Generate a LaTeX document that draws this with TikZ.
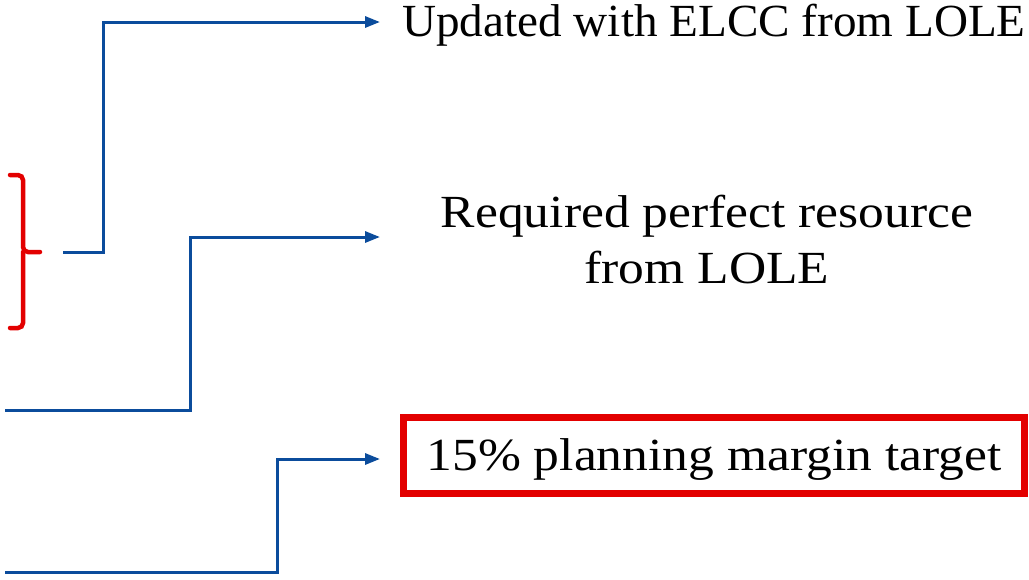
\documentclass[tikz,border=0pt]{standalone}
\usepackage{fontspec}
\setmainfont{Liberation Serif}
\newfontfamily\widefont[FakeStretch=1.12]{Liberation Serif}
\newfontfamily\slightfont[FakeStretch=1.025]{Liberation Serif}
\usetikzlibrary{arrows.meta}
\definecolor{lnblue}{HTML}{0B4C9C}
\definecolor{bred}{HTML}{E30000}
\begin{document}
\begin{tikzpicture}[x=1pt,y=-1pt,
  conn/.style={draw=lnblue,line width=3pt,-{Triangle[length=15pt,width=11pt]}},
  lbl/.style={font=\fontsize{46}{56}\widefont,inner sep=0pt,align=center},
  redbox/.style={draw=bred,line width=7pt,minimum width=621pt,minimum height=76pt,inner sep=0pt,text height=40pt,text depth=10pt}]
\useasboundingbox (0,0) rectangle (1029,579);
% brace
\draw[bred,line width=4.5pt,line cap=round,rounded corners=5pt]
  (10,175) -- (23,175) -- (23,252) -- (40,252);
\draw[bred,line width=4.5pt,line cap=round,rounded corners=5pt]
  (10,328) -- (23,328) -- (23,252);
\coordinate (b) at (63,252);
\coordinate (s2) at (5,410);
\coordinate (s3) at (5,572);
\node[lbl,font=\fontsize{46}{56}\slightfont] (t1) at (714,25) {Updated with ELCC from LOLE};
\node[lbl] (t2) at (707,240) {Required perfect resource\\from LOLE};
\node[redbox,lbl] (t3) at (714,455) {15\% planning margin target};
\coordinate (a1) at (380,22);
\coordinate (a2) at (380,237);
\coordinate (a3) at (380,459);
\draw[conn] (b) -- (103,252) |- (a1);
\draw[conn] (s2) -- (190,410) |- (a2);
\draw[conn] (s3) -- (277,572) |- (a3);
\end{tikzpicture}
\end{document}
